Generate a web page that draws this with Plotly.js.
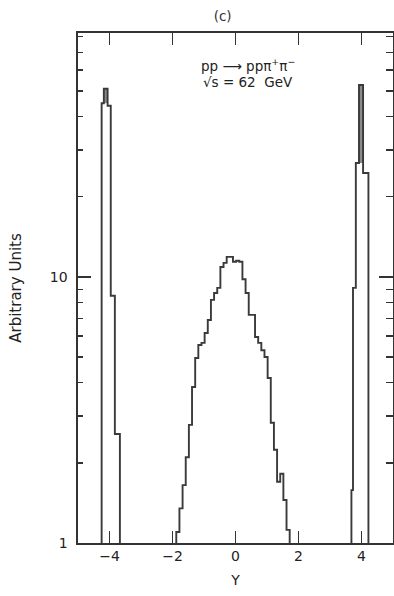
<!DOCTYPE html>
<html>
<head>
<meta charset="utf-8">
<script src="https://cdn.plot.ly/plotly-3.0.1.min.js"></script>
<style>
  html, body { margin: 0; padding: 0; background: #fff; }
  #chart { width: 394px; height: 596px; }
</style>
</head>
<body>
<div id="chart"></div>
<script>
// Rapidity distribution, pp -> pp pi+ pi-, sqrt(s) = 62 GeV (log scale)

// Proton peak near Y = -4: bin edges and contents
const leftEdges  = [-4.25, -4.18, -4.06, -3.96, -3.83, -3.67];
const leftCounts = [45, 51, 44, 8.5, 2.57];

// Central (pion pair) region: bin edges and contents
const centerEdges = [-1.88, -1.78, -1.68, -1.58, -1.48, -1.38, -1.28, -1.18, -1.08, -0.98,
                     -0.88, -0.78, -0.68, -0.58, -0.48, -0.38, -0.28, -0.18, -0.08, 0.02,
                      0.12, 0.22, 0.32, 0.42, 0.52, 0.62, 0.72, 0.82, 0.92, 1.02,
                      1.12, 1.22, 1.32, 1.42, 1.52, 1.62, 1.72];
const centerCounts = [1.10, 1.35, 1.65, 2.10, 2.78, 3.86, 4.96, 5.55, 5.65, 6.16,
                      6.89, 8.2, 8.7, 9.1, 10.9, 11.3, 11.9, 11.9, 11.4, 11.5,
                      11.4, 9.8, 8.7, 7.2, 7.2, 5.95, 5.65, 5.3, 5.0, 4.17,
                      2.83, 2.24, 1.70, 1.82, 1.45, 1.12];

// Proton peak near Y = +4: bin edges and contents
const rightEdges  = [3.68, 3.73, 3.82, 3.92, 4.05, 4.22];
const rightCounts = [1.58, 9.1, 26.8, 52.7, 24.6];

// Axis ticks
const xTicks = [-4, -2, 0, 2, 4];
const yMajor = [1, 10];
const yMinor = [2, 3, 4, 5, 6, 7, 8, 9, 20, 30, 40, 50, 60, 70, 80];

const LINE = '#3a3a3a';
const INK = '#222';
const FONT = 'DejaVu Sans, Liberation Sans, sans-serif';
const Y_RANGE = [0, 1.917];

// Histogram outline starting and ending on the baseline (y = 1)
function outline(edges, counts) {
  const x = [edges[0]].concat(edges);
  const y = [1].concat(counts, [1]);
  return {
    type: 'scatter', mode: 'lines', x: x, y: y,
    line: { shape: 'hv', color: LINE, width: 1.9 },
    hoverinfo: 'skip', showlegend: false
  };
}

// Shade the tallest bin above its shoulders, where the two edges run close together
function peakShade(edges, counts) {
  let k = 0;
  counts.forEach((c, i) => { if (c > counts[k]) k = i; });
  const lo = Math.max(counts[k - 1] || 1, counts[k + 1] || 1);
  return {
    type: 'scatter', mode: 'lines',
    x: [edges[k], edges[k], edges[k + 1], edges[k + 1], edges[k]],
    y: [lo, counts[k], counts[k], lo, lo],
    fill: 'toself', fillcolor: '#8a8a8a',
    line: { width: 0, color: 'rgba(0,0,0,0)' },
    hoverinfo: 'skip', showlegend: false
  };
}

const traces = [
  peakShade(leftEdges, leftCounts),
  peakShade(rightEdges, rightCounts),
  outline(leftEdges, leftCounts),
  outline(centerEdges, centerCounts),
  outline(rightEdges, rightCounts)
];

const tickStyle = { ticks: 'inside', tickwidth: 1.4, tickcolor: '#333' };

const layout = {
  width: 394, height: 596,
  margin: { l: 78, r: 1, t: 33, b: 53 },
  paper_bgcolor: '#fff', plot_bgcolor: '#fff',
  font: { family: FONT, color: INK, size: 13 },
  title: {
    text: '(c)', x: 0.565, xanchor: 'center', y: 0.973, yanchor: 'middle',
    font: { family: FONT, size: 13.5, color: '#333' }
  },
  xaxis: Object.assign({
    range: [-5, 5], tickmode: 'array', tickvals: xTicks, ticklen: 12,
    showline: true, linecolor: '#333', linewidth: 1.6, mirror: 'ticks',
    showgrid: false, zeroline: false,
    tickfont: { family: FONT, size: 14, color: INK },
    title: { text: 'Y', standoff: 12, font: { family: FONT, size: 14, color: INK } }
  }, tickStyle),
  yaxis: Object.assign({
    type: 'log', range: Y_RANGE, tickmode: 'array', tickvals: yMajor, ticklen: 13,
    minor: { tickmode: 'array', tickvals: yMinor, ticks: 'inside', ticklen: 5, tickwidth: 1.2, tickcolor: '#333' },
    showline: true, linecolor: '#333', linewidth: 1.6, mirror: true,
    showgrid: false, zeroline: false,
    ticklabelstandoff: 6,
    tickfont: { family: FONT, size: 14, color: INK },
    title: { text: 'Arbitrary Units', standoff: 24, font: { family: FONT, size: 15, color: INK } }
  }, tickStyle),
  // Same log scale on the right frame, carrying its own inward ticks
  yaxis2: Object.assign({
    type: 'log', range: Y_RANGE, overlaying: 'y', side: 'right',
    tickmode: 'array', tickvals: yMajor, ticklen: 14, showticklabels: false,
    minor: { tickmode: 'array', tickvals: yMinor, ticks: 'inside', ticklen: 7, tickwidth: 1.2, tickcolor: '#333' },
    showline: false, showgrid: false, zeroline: false
  }, tickStyle),
  annotations: [
    { xref: 'x', yref: 'paper', x: 0.4, y: 0.937, xanchor: 'center', yanchor: 'middle',
      text: 'pp \u27F6 pp\u03C0<sup>+</sup>\u03C0<sup>\u2212</sup>', showarrow: false,
      font: { family: FONT, size: 13.5, color: INK } },
    { xref: 'x', yref: 'paper', x: 0.4, y: 0.903, xanchor: 'center', yanchor: 'middle',
      text: '\u221As = 62  GeV', showarrow: false,
      font: { family: FONT, size: 13.5, color: INK } }
  ]
};

// Empty trace that binds the right-hand tick axis
traces.push({ type: 'scatter', x: [], y: [], yaxis: 'y2', hoverinfo: 'skip', showlegend: false });

Plotly.newPlot('chart', traces, layout, { displayModeBar: false, staticPlot: true });
</script>
</body>
</html>
